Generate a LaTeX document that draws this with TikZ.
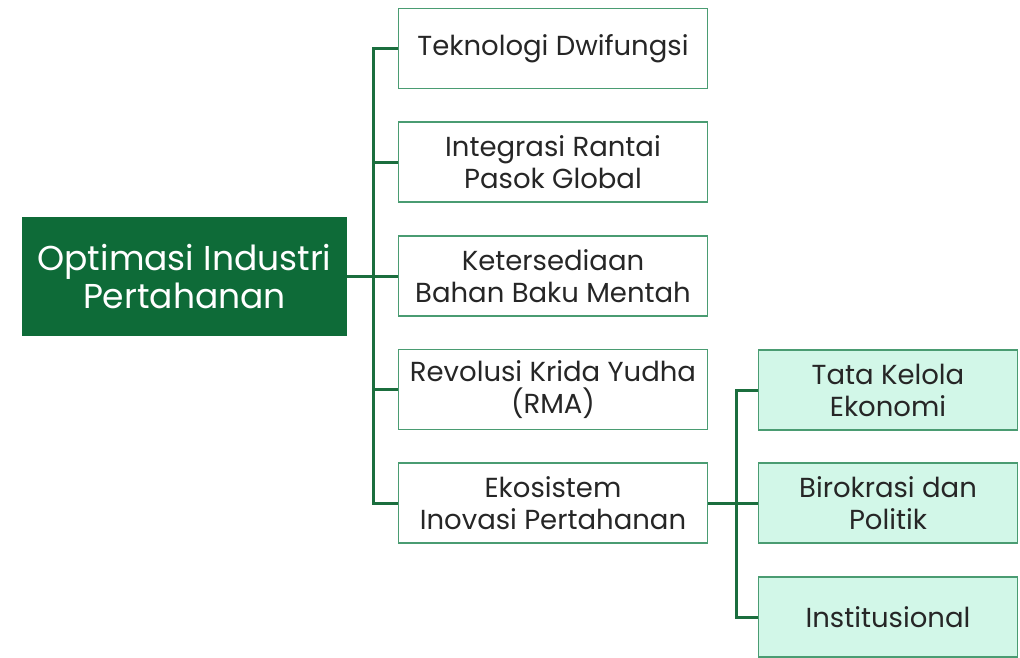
\documentclass[tikz,border=0pt]{standalone}
\usepackage{fontspec}
\setmainfont{Poppins}
\usetikzlibrary{positioning}
\definecolor{darkgreen}{HTML}{0E6B38}
\definecolor{linegreen}{HTML}{1B6E3E}
\definecolor{boxgreen}{HTML}{4A9C72}
\definecolor{mint}{HTML}{D2F7E8}
\tikzset{x=1pt, y=-1pt, % one unit is one pixel of the layout, y grows downwards
every node/.style={align=center, text=black!85, font=\fontsize{27.5}{32}\selectfont}, % text of all boxes
mainbox/.style={fill=darkgreen, text=white, minimum width=325pt, minimum height=119pt, font=\fontsize{34.5}{38}\selectfont}, % the root
midbox/.style={draw=boxgreen, line width=1.5pt, fill=white, minimum width=309pt, minimum height=80pt}, % first level
subbox/.style={midbox, fill=mint, minimum width=259pt}, % second level
link/.style={draw=linegreen, line width=3pt}, % the tree lines
}
\begin{document}
\begin{tikzpicture}
    \useasboundingbox (0,0) rectangle (1020,657);
    \node[mainbox] (root) at (184.5,276.5) {Optimasi Industri\\Pertahanan};
    \node[midbox] (m1) at (553,48.5) {Teknologi Dwifungsi};
    \node[midbox] (m2) at (553,162) {Integrasi Rantai\\Pasok Global};
    \node[midbox] (m3) at (553,276) {Ketersediaan\\Bahan Baku Mentah};
    \node[midbox] (m4) at (553,389.5) {Revolusi Krida Yudha\\(RMA)};
    \node[midbox] (m5) at (553,503) {Ekosistem\\Inovasi Pertahanan};
    \node[subbox] (s1) at (888,390) {Tata Kelola\\Ekonomi};
    \node[subbox] (s2) at (888,503) {Birokrasi dan\\Politik};
    \node[subbox] (s3) at (888,617) {Institusional};
    \coordinate (trunk) at (373,0);
    \coordinate (branch) at (736,0);
    \draw[link] (root.east) -- (root.east -| trunk)
    (m1.west) -- (m1.west -| trunk) |- (m5.west);
    \foreach \n in {2,3,4}
        \draw[link] (m\n.west) -- (m\n.west -| trunk);
    \draw[link] (m5.east) -- (m5.east -| branch)
    (s1.west) -- (s1.west -| branch) |- (s3.west)
    (s2.west) -- (s2.west -| branch);
\end{tikzpicture}
\end{document}
